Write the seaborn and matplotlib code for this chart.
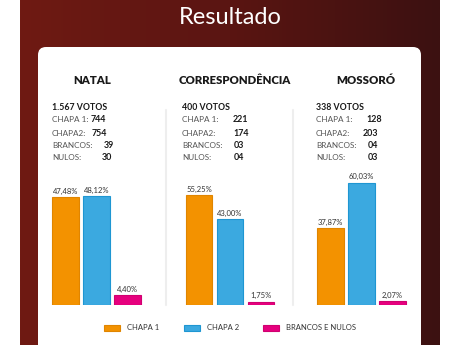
import numpy as np
import pandas as pd
import matplotlib
matplotlib.use("Agg")
import matplotlib.pyplot as plt
import matplotlib.patches as mpatches
import seaborn as sns

# ---------------- data ----------------
regions = ["NATAL", "CORRESPONDÊNCIA", "MOSSORÓ"]
total_votes = ["1.567", "400", "338"]
chapa1_votes = ["744", "221", "128"]
chapa2_votes = ["754", "174", "203"]
brancos_votes = ["39", "03", "04"]
nulos_votes = ["30", "04", "03"]
series = ["CHAPA 1", "CHAPA 2", "BRANCOS E NULOS"]
chapa1_pct = [47.48, 55.25, 37.87]
chapa2_pct = [48.12, 43.00, 60.03]
bn_pct = [4.40, 1.75, 2.07]
axis_top = [59.5, 67.8, 66.2]

colors = {"CHAPA 1": "#F39200", "CHAPA 2": "#3BA9E0", "BRANCOS E NULOS": "#E6007E"}
edges = {"CHAPA 1": "#E08500", "CHAPA 2": "#1E96D2", "BRANCOS E NULOS": "#D00070"}

sns.set_theme(style="white")
plt.rcParams["font.family"] = ["Lato", "DejaVu Sans"]

W, H = 460, 345
fig = plt.figure(figsize=(W / 100, H / 100), dpi=100)

# background axes in pixel coords
bg = fig.add_axes([0, 0, 1, 1])
grad = np.linspace(0, 1, 256)[None, :]
cmap = matplotlib.colors.LinearSegmentedColormap.from_list("bgred", ["#6f1a13", "#5a1512", "#3c1111"])
bg.imshow(grad, extent=(20, 440, H, 0), cmap=cmap, aspect="auto", zorder=0)
bg.set_xlim(0, W)
bg.set_ylim(H, 0)
bg.axis("off")
card = mpatches.FancyBboxPatch((38, 47), 383, 330, boxstyle="round,pad=0,rounding_size=8",
                               facecolor="white", edgecolor="none", zorder=1)
bg.add_patch(card)
bg.text(230, 18, "Resultado", color="white", fontsize=17, fontweight="normal",
        ha="center", va="center", zorder=2)

# separators
for sx in (166, 293):
    bg.plot([sx, sx], [110, 305], color="#eeeeee", lw=1.5, zorder=2)

title_x = [92, 235, 366]
text_x = [52, 182, 316]
val_x = [[91, 92, 104, 102], [233, 233, 234, 234], [366, 363, 368, 368]]
line_y = [120, 133, 145, 158]
line_lbl = ["CHAPA 1:", "CHAPA2:", "BRANCOS:", "NULOS:"]
bar_left = [50, 183.5, 315]
bar_w_px = 93

for i, reg in enumerate(regions):
    bg.text(title_x[i], 81, reg, fontsize=8.2, fontweight="heavy", color="#1a1a1a",
            ha="center", va="center", zorder=3)
    bg.text(text_x[i], 107, f"{total_votes[i]} VOTOS", fontsize=6.3, fontweight="bold",
            color="#1a1a1a", ha="left", va="center", zorder=3)
    vals = [chapa1_votes[i], chapa2_votes[i], brancos_votes[i], nulos_votes[i]]
    for j in range(4):
        bg.text(text_x[i], line_y[j], line_lbl[j], fontsize=5.9, color="#555555",
                ha="left", va="center", zorder=3)
        bg.text(val_x[i][j], line_y[j], vals[j], fontsize=6.4, fontweight="bold",
                color="#1a1a1a", ha="left", va="center", zorder=3)

    df = pd.DataFrame({"serie": series, "pct": [chapa1_pct[i], chapa2_pct[i], bn_pct[i]]})
    ax = fig.add_axes([bar_left[i] / W, (H - 305) / H, bar_w_px / W, 135 / H])
    ax.patch.set_alpha(0)
    sns.barplot(data=df, x="serie", y="pct", hue="serie", palette=colors, width=0.87,
                dodge=False, legend=False, ax=ax, saturation=1)
    for p, s in zip(ax.patches, series):
        p.set_edgecolor(edges[s])
        p.set_linewidth(0.8)
    for c in ax.containers:
        ax.bar_label(c, labels=[f"{v:.2f}".replace(".", ",") + "%" for v in c.datavalues],
                     padding=1.5, fontsize=5.5, color="#333333")
    ax.set_xlim(-0.5, 2.5)
    ax.set_ylim(0, axis_top[i])
    ax.axis("off")

handles = [mpatches.Patch(facecolor=colors[s], edgecolor=edges[s], lw=0.8) for s in series]
fig.legend(handles, series, loc="center", bbox_to_anchor=(230 / W, (H - 328) / H), ncol=3,
           frameon=False, fontsize=5.5, handlelength=2.1, handleheight=0.8,
           handletextpad=0.9, columnspacing=3.2, labelcolor="#333333")

fig.savefig("out.png", dpi=100)
